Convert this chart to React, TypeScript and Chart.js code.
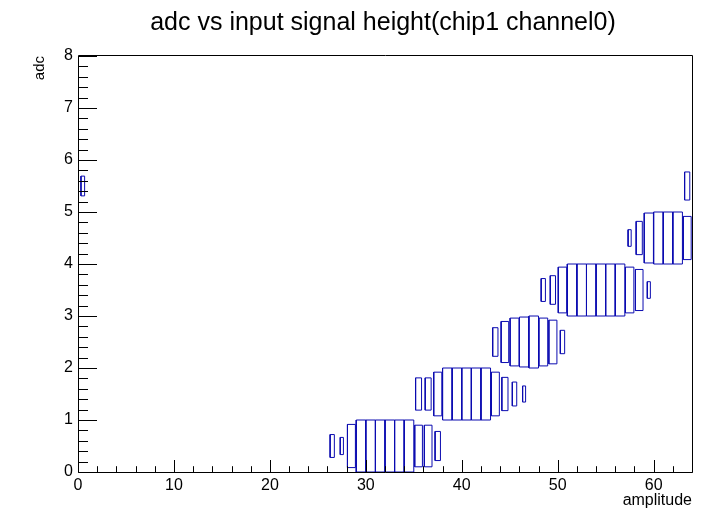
import { useEffect, useRef } from "react";
import { Chart, registerables } from "chart.js";

Chart.register(...registerables);

// Bin contents (box size as a fraction of the cell) for each adc row.
const adc0Amplitude = [26, 27, 28, 29, 30, 31, 32, 33, 34, 35, 36, 37];
const adc0Size = [0.44, 0.33, 0.83, 1, 1, 1, 1, 1, 1, 0.8, 0.8, 0.56];

const adc1Amplitude = [35, 36, 37, 38, 39, 40, 41, 42, 43, 44, 45, 46];
const adc1Size = [0.62, 0.62, 0.84, 1, 1, 1, 1, 1, 0.84, 0.64, 0.46, 0.31];

const adc2Amplitude = [43, 44, 45, 46, 47, 48, 49, 50];
const adc2Size = [0.55, 0.79, 0.92, 0.96, 1, 0.92, 0.84, 0.45];

const adc3Amplitude = [48, 49, 50, 51, 52, 53, 54, 55, 56, 57, 58, 59];
const adc3Size = [0.44, 0.55, 0.88, 1, 1, 1, 1, 1, 1, 0.88, 0.79, 0.32];

const adc4Amplitude = [57, 58, 59, 60, 61, 62, 63];
const adc4Size = [0.32, 0.64, 0.96, 1, 1, 1, 0.83];

const adc5Amplitude = [0, 63];
const adc5Size = [0.38, 0.54];

const amplitudeRange = [0, 64];
const adcRange = [0, 8];

const TITLE = "adc vs input signal height(chip1 channel0)";
const X_TITLE = "amplitude";
const Y_TITLE = "adc";

const FONT = '"Liberation Sans", Arial, Helvetica, sans-serif';
const BOX_COLOR = "#0b0bb0";

type Pt = { x: number; y: number | null };

// Outline of every cell box in one adc row, as a closed path per cell.
function rowOutline(adc: number, amps: number[], sizes: number[]): Pt[] {
  const pts: Pt[] = [];
  amps.forEach((a, i) => {
    const h = sizes[i] / 2;
    const cx = a + 0.5;
    const cy = adc + 0.5;
    pts.push(
      { x: cx - h, y: cy - h },
      { x: cx + h, y: cy - h },
      { x: cx + h, y: cy + h },
      { x: cx - h, y: cy + h },
      { x: cx - h, y: cy - h },
      { x: cx - h, y: null }
    );
  });
  return pts;
}

const rows: [number, number[], number[]][] = [
  [0, adc0Amplitude, adc0Size],
  [1, adc1Amplitude, adc1Size],
  [2, adc2Amplitude, adc2Size],
  [3, adc3Amplitude, adc3Size],
  [4, adc4Amplitude, adc4Size],
  [5, adc5Amplitude, adc5Size],
];

// Frame, inward tick marks and the texts around the pad.
const framePlugin = {
  id: "frame",
  afterDatasetsDraw(chart: any) {
    const { ctx, chartArea, scales } = chart;
    const { left, right, top, bottom } = chartArea;
    const xs = scales.x;
    const ys = scales.y;
    ctx.save();
    ctx.strokeStyle = "#000";
    ctx.lineWidth = 1;
    ctx.beginPath();
    ctx.rect(left + 0.5, top - 0.5, right - left, bottom - top + 1);
    ctx.stroke();

    ctx.beginPath();
    for (const t of xs.ticks) {
      const px = Math.round(xs.getPixelForValue(t.value)) + 0.5;
      const major = Math.abs(t.value % 10) < 1e-6;
      const len = major ? 12.5 : 6.3;
      ctx.moveTo(px, bottom + 0.5);
      ctx.lineTo(px, bottom + 0.5 - len);
    }
    for (const t of ys.ticks) {
      const py = Math.round(ys.getPixelForValue(t.value)) + 0.5;
      const major = Math.abs(t.value - Math.round(t.value)) < 1e-6;
      const len = major ? 18.5 : 9.5;
      ctx.moveTo(left + 0.5, py);
      ctx.lineTo(left + 0.5 + len, py);
    }
    ctx.stroke();
    ctx.restore();
  },
  afterDraw(chart: any) {
    const { ctx, chartArea } = chart;
    ctx.save();
    ctx.fillStyle = "#000";
    ctx.font = `25px ${FONT}`;
    ctx.textAlign = "center";
    ctx.textBaseline = "alphabetic";
    ctx.fillText(TITLE, 383, 30);

    ctx.font = `16px ${FONT}`;
    ctx.textAlign = "right";
    ctx.fillText(X_TITLE, chartArea.right, 505);

    ctx.font = `15px ${FONT}`;
    ctx.translate(44, chartArea.top);
    ctx.rotate(-Math.PI / 2);
    ctx.textAlign = "right";
    ctx.fillText(Y_TITLE, 0, 0);
    ctx.restore();
  },
};

export default function App() {
  const canvasRef = useRef<HTMLCanvasElement | null>(null);

  useEffect(() => {
    const canvas = canvasRef.current;
    if (!canvas) return;
    const chart = new Chart(canvas, {
      type: "scatter",
      data: {
        datasets: rows.map(([adc, amps, sizes]) => ({
          label: `adc ${adc}`,
          data: rowOutline(adc, amps, sizes),
          showLine: true,
          spanGaps: false,
          borderColor: BOX_COLOR,
          borderWidth: 1,
          pointRadius: 0,
          pointHoverRadius: 0,
          tension: 0,
          fill: false,
        })),
      },
      options: {
        animation: false,
        responsive: false,
        devicePixelRatio: 1,
        layout: { padding: { left: 0, right: 16, top: 56, bottom: 0 } },
        plugins: {
          legend: { display: false },
          tooltip: { enabled: false },
          title: { display: false },
        },
        scales: {
          x: {
            type: "linear",
            min: amplitudeRange[0],
            max: amplitudeRange[1],
            grid: { display: false, drawTicks: false, tickLength: 0 },
            border: { display: false },
            ticks: {
              stepSize: 2,
              maxTicksLimit: 100,
              autoSkip: false,
              maxRotation: 0,
              minRotation: 0,
              padding: 4,
              color: "#000",
              font: { family: FONT, size: 16 },
              callback: (v: any) => (Math.abs(Number(v) % 10) < 1e-6 ? String(v) : ""),
            },
            afterFit: (s: any) => {
              s.height = 38;
            },
          },
          y: {
            type: "linear",
            min: adcRange[0],
            max: adcRange[1],
            grid: { display: false, drawTicks: false, tickLength: 0 },
            border: { display: false },
            ticks: {
              stepSize: 0.2,
              maxTicksLimit: 100,
              autoSkip: false,
              padding: 5,
              color: "#000",
              font: { family: FONT, size: 16 },
              callback: (v: any) => {
                const n = Number(v);
                return Math.abs(n - Math.round(n)) < 1e-6 ? String(Math.round(n)) : "";
              },
            },
            afterFit: (s: any) => {
              s.width = 78;
            },
          },
        },
      },
      plugins: [framePlugin],
    });
    return () => chart.destroy();
  }, []);

  return (
    <div style={{ position: "fixed", left: 0, top: 0, width: 708, height: 510, background: "#fff" }}>
      <canvas ref={canvasRef} width={708} height={510} />
    </div>
  );
}
